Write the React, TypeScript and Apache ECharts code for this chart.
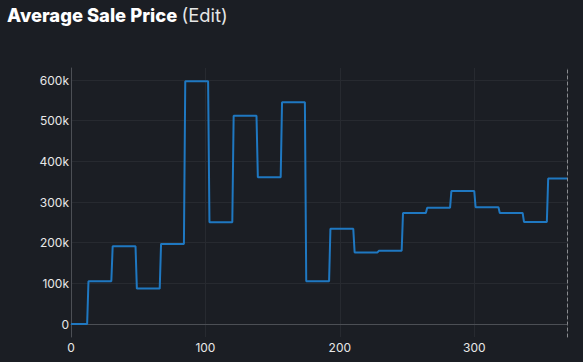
import React, { useEffect, useRef } from "react";
import * as echarts from "echarts";

// Step levels (average sale price) and the day at which each level ends
const levels = [0, 105000, 191000, 87000, 197000, 597000, 250000, 512000, 361000, 545000, 105000, 234000, 176000, 180000, 273000, 286000, 327000, 287000, 273000, 251000, 358000];
const breakDays = [12, 30, 48, 66, 84, 102, 120, 138, 156, 174, 192, 210, 228, 246, 264, 282, 300, 318, 336, 354];
const lastDay = 369;
const yTicks = [0, 100000, 200000, 300000, 400000, 500000, 600000];
const xTicks = [0, 100, 200, 300];

function buildPoints(): [number, number][] {
  const pts: [number, number][] = [[0, levels[0]]];
  breakDays.forEach((d, i) => {
    pts.push([d, levels[i]]);
    pts.push([d + 1, levels[i + 1]]);
  });
  pts.push([lastDay, levels[levels.length - 1]]);
  return pts;
}

export default function App() {
  const ref = useRef<HTMLDivElement>(null);
  useEffect(() => {
    if (!ref.current) return;
    const chart = echarts.init(ref.current, undefined, { renderer: "svg" });
    const font = "Inter, 'Noto Sans', sans-serif";
    const gridColor = "#272a30";
    const axisColor = "#4c4f55";
    chart.setOption({
      animation: false,
      backgroundColor: "#1b1e24",
      textStyle: { fontFamily: font },
      title: {
        left: 7,
        top: 2,
        padding: 0,
        text: "{b|Average Sale Price} {n|(Edit)}",
        textStyle: {
          rich: {
            b: { fontFamily: font, fontSize: 18.4, fontWeight: 800, color: "#ffffff", lineHeight: 25 },
            n: { fontFamily: font, fontSize: 18.4, fontWeight: 400, color: "#e6e6e6", lineHeight: 25 },
          },
        },
      },
      grid: [
        { left: 71, right: 16, top: 80, bottom: 38 },
        { left: 71, right: 16, top: 68, bottom: 25 },
      ],
      xAxis: [
        {
          gridIndex: 0,
          type: "value",
          min: 0,
          max: lastDay,
          axisLine: { show: true, lineStyle: { color: axisColor, width: 1 } },
          axisTick: { show: false },
          axisLabel: { show: false },
          splitLine: { show: false },
        },
        {
          gridIndex: 1,
          type: "value",
          min: 0,
          max: lastDay,
          interval: 100,
          axisLine: { show: false },
          axisTick: { show: false },
          axisLabel: {
            color: "#e8e8e8",
            fontSize: 12,
            fontFamily: font,
            margin: 4,
            formatter: (v: number) => (xTicks.includes(v) ? String(v) : ""),
          },
          splitLine: { show: true, lineStyle: { color: gridColor, width: 1 } },
        },
      ],
      yAxis: [
        {
          gridIndex: 0,
          type: "value",
          min: 0,
          max: yTicks[yTicks.length - 1],
          interval: 100000,
          axisLine: { show: false },
          axisTick: { show: false },
          axisLabel: {
            color: "#e8e8e8",
            fontSize: 12,
            fontFamily: font,
            margin: 2,
            formatter: (v: number) => (v === 0 ? "0" : v / 1000 + "k"),
          },
          splitLine: { show: true, lineStyle: { color: gridColor, width: 1 } },
        },
        {
          gridIndex: 1,
          type: "value",
          min: 0,
          max: 1,
          axisLine: { show: true, onZero: false, lineStyle: { color: axisColor, width: 1 } },
          axisTick: { show: false },
          axisLabel: { show: false },
          splitLine: { show: false },
        },
        {
          gridIndex: 1,
          type: "value",
          position: "right",
          min: 0,
          max: 1,
          axisLine: { show: true, onZero: false, lineStyle: { color: "#8a8c90", width: 1, type: [3, 3] } },
          axisTick: { show: false },
          axisLabel: { show: false },
          splitLine: { show: false },
        },
      ],
      series: [
        {
          type: "line",
          xAxisIndex: 0,
          yAxisIndex: 0,
          data: buildPoints(),
          showSymbol: false,
          symbol: "none",
          lineStyle: { color: "#1f78c1", width: 2 },
          z: 5,
        },
      ],
    });
    return () => chart.dispose();
  }, []);
  return (
    <div
      ref={ref}
      style={{ position: "absolute", left: 0, top: 0, width: 583, height: 362 }}
    />
  );
}
